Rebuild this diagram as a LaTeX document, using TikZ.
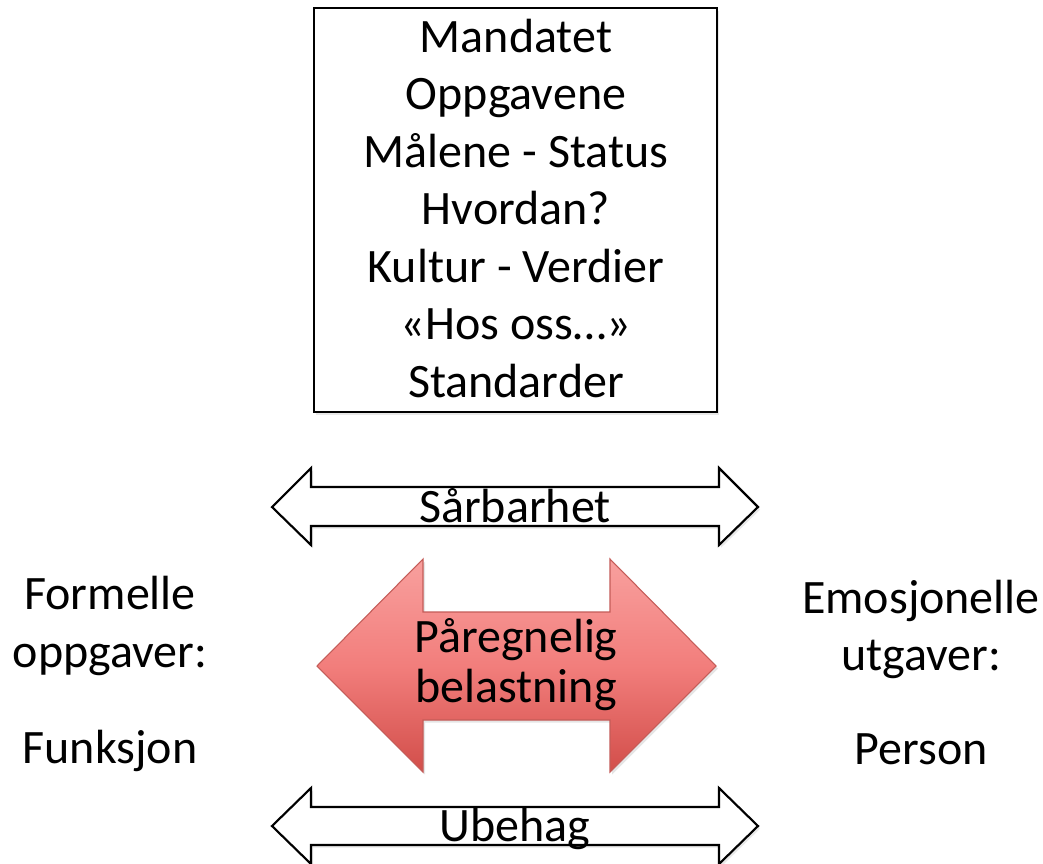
\documentclass[tikz,border=0pt]{standalone}
\usepackage{fontspec}
\setmainfont{Carlito}
\usetikzlibrary{shadows}
\definecolor{redtop}{RGB}{248,160,158}
\definecolor{redmid}{RGB}{242,126,124}
\definecolor{redbot}{RGB}{210,78,74}
\definecolor{rededge}{RGB}{196,92,88}
\begin{document}
\begin{tikzpicture}[x=0.75pt,y=-0.75pt,
  txt/.style={inner sep=0pt,anchor=base,font=\fontsize{36}{43}\selectfont,text=black},
  whitearrow/.style={draw=black,line width=1.6pt,fill=white,line join=miter,
    drop shadow={opacity=0.18,shadow xshift=1.5pt,shadow yshift=-2pt}},
  redarrow/.style={draw=rededge,line width=0.8pt,top color=redtop,bottom color=redbot,middle color=redmid,
    drop shadow={opacity=0.2,shadow xshift=1.5pt,shadow yshift=-2pt}},
  boxstyle/.style={draw=black,line width=1.2pt,fill=white,
    drop shadow={opacity=0.18,shadow xshift=1.5pt,shadow yshift=-2pt}}]
\useasboundingbox (0,0) rectangle (1043,864);
\fill[white] (0,0) rectangle (1043,864);
% top box
\draw[boxstyle] (314,8) rectangle (717,412);
\node[txt] (l1) at (516,52.3) {Mandatet};
\node[txt] (l2) at (516,109.8) {Oppgavene};
\node[txt] (l3) at (516,167.3) {Målene - Status};
\node[txt] (l4) at (516,224.8) {Hvordan?};
\node[txt] (l5) at (516,282.3) {Kultur - Verdier};
\node[txt] (l6) at (516,339.8) {«Hos oss…»};
\node[txt] (l7) at (516,397.3) {Standarder};
% Sårbarhet arrow
\draw[whitearrow] (272,507) -- (311,468) -- (311,487) -- (719,487) -- (719,468) -- (758,507)
  -- (719,545) -- (719,526) -- (311,526) -- (311,545) -- cycle;
\node[txt] (sarb) at (515,522) {Sårbarhet};
% red arrow
\draw[redarrow] (317,666) -- (423,559) -- (423,612) -- (610,612) -- (610,559) -- (716,666)
  -- (610,772) -- (610,720) -- (423,720) -- (423,772) -- cycle;
\node[txt] (pa1) at (516,652) {Påregnelig};
\node[txt] (pa2) at (516,702) {belastning};
% Ubehag arrow
\draw[whitearrow] (272,826) -- (311,788) -- (311,807) -- (719,807) -- (719,788) -- (758,826)
  -- (719,864) -- (719,845) -- (311,845) -- (311,864) -- cycle;
\node[txt] (ub) at (515,841) {Ubehag};
% left
\node[txt] (f1) at (110,609.5) {Formelle};
\node[txt] (f2) at (110,667) {oppgaver:};
\node[txt] (f3) at (110,763.5) {Funksjon};
% right
\node[txt] (e1) at (921,613.5) {Emosjonelle};
\node[txt] (e2) at (921,670.5) {utgaver:};
\node[txt] (e3) at (921,764) {Person};
\end{tikzpicture}
\end{document}
